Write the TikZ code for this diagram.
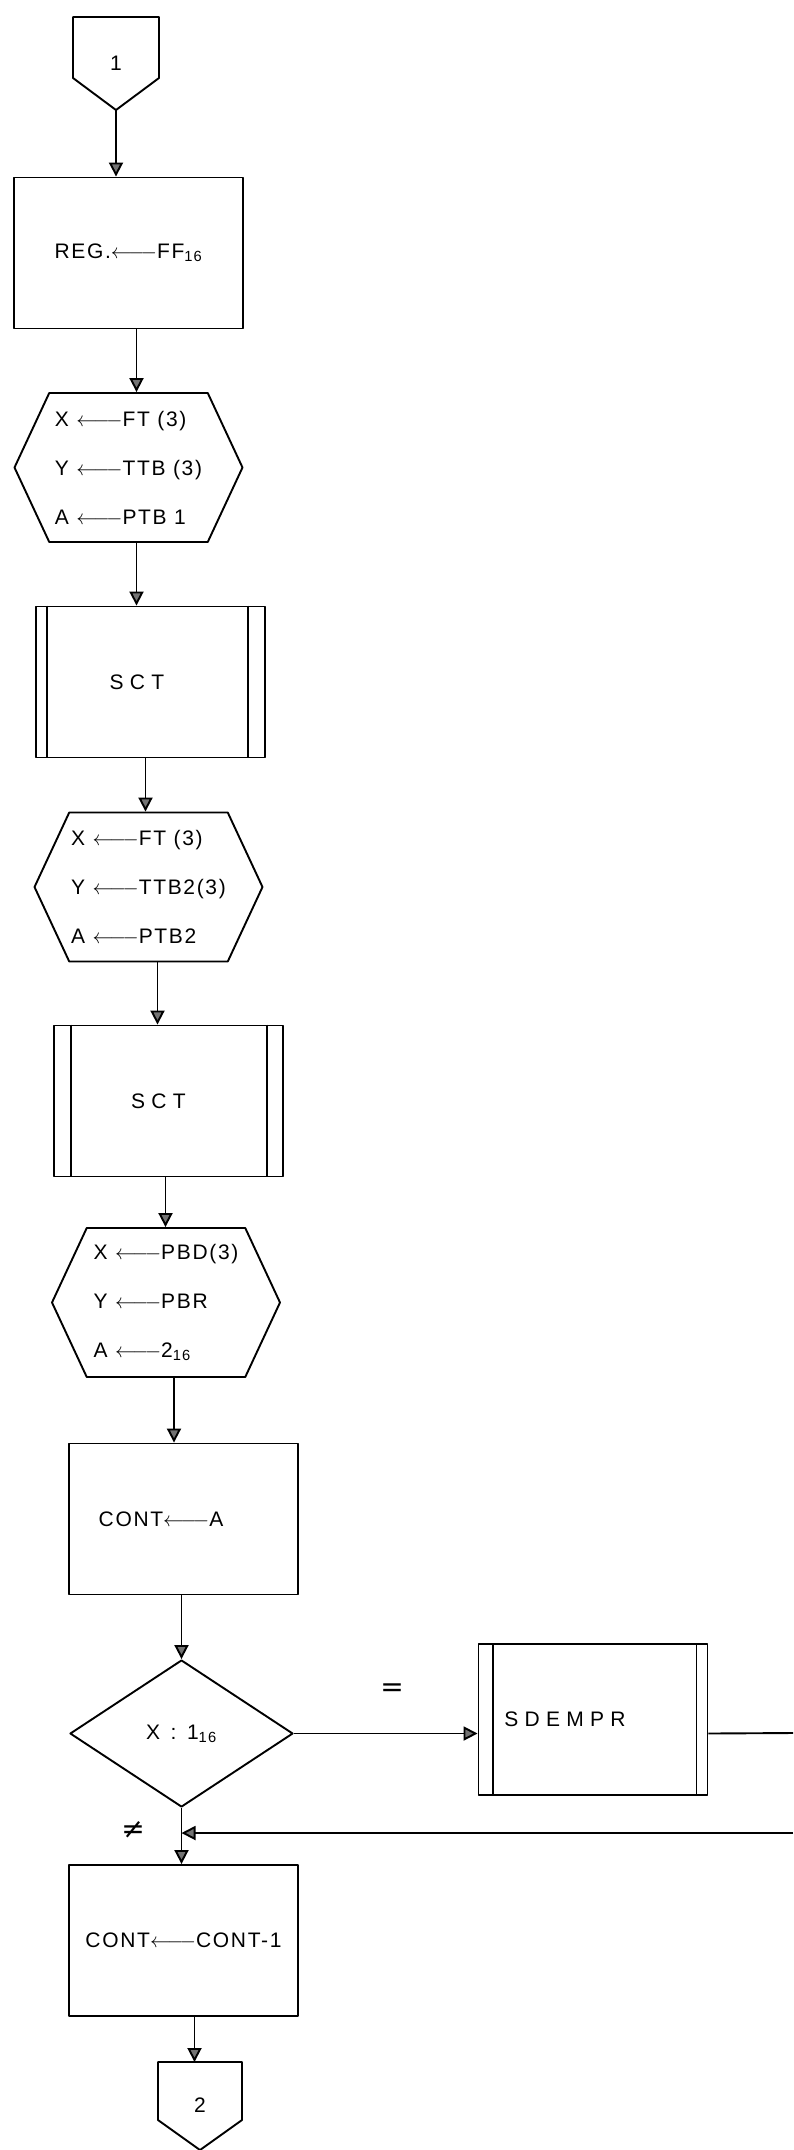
\documentclass[tikz,border=0pt]{standalone}
\usepackage{fontspec}
\setmainfont{Liberation Sans}[LetterSpace=8]
\newfontfamily\relfont{DejaVu Sans}
\usetikzlibrary{arrows.meta,shapes.geometric,shapes.symbols}
\newcommand\asgn{$\mathrel{\leftarrow\joinrel\relbar\joinrel\relbar}$}

\begin{document}
\begin{tikzpicture}[x=1pt,y=-1pt,line width=1.9pt,line join=round,
  font=\fontsize{21}{49}\selectfont,
  flow/.style={-{Triangle[length=14pt,width=14pt,fill=black!55]}},
  proc/.style={draw,rectangle,minimum width=229pt,minimum height=151pt,inner sep=0pt},
  sub/.style={proc,font=\fontsize{21}{49}\selectfont\addfontfeature{LetterSpace=30}},
  hexa/.style={draw,signal,signal to=east and west,signal pointer angle=130,
    minimum width=228pt,minimum height=149pt,inner sep=0pt,align=left},
  decision/.style={draw,diamond,aspect=1.5,minimum width=223pt,minimum height=147pt,inner sep=0pt},
  rel/.style={font=\relfont\fontsize{28}{28}\selectfont}]
\useasboundingbox (0,0) rectangle (793,2150);

% off-page connectors, drawn round their numbers
\node (c1) at (116,63) {1};
\draw (c1.center) +(-43,-46) -- +(43,-46) -- +(43,15) -- +(0,47) -- +(-43,15) -- cycle;
\coordinate (c1tip) at (116,110);
\node (c2) at (200,2105) {2};
\draw (c2.center) +(-42,-43) -- +(42,-43) -- +(42,15) -- +(0,45) -- +(-42,15) -- cycle;
\coordinate (c2top) at (200,2062);

% main column
\node[proc] (reg) at (128.5,253) {REG.\asgn FF\textsubscript{16}};
\node[hexa] (h1) at (128.5,467.5) {X \asgn FT (3)\\Y \asgn TTB (3)\\A \asgn PTB 1};
\node[sub] (sct1) at (150.5,682) {SCT\hspace*{27pt}};
\node[hexa] (h2) at (148.5,887) {X \asgn FT (3)\\Y \asgn TTB2(3)\\A \asgn PTB2};
\node[sub] (sct2) at (168.5,1101) {SCT\hspace*{20pt}};
\node[hexa] (h3) at (166,1302.5) {X \asgn PBD(3)\\Y \asgn PBR\\A \asgn 2\textsubscript{16}};
\node[proc] (cont) at (183.5,1519) {CONT\asgn A\hspace*{45pt}};
\node[decision] (cmp) at (181.5,1733.5) {X\enspace:\enspace1\textsubscript{16}};
\node[sub] (sdempr) at (593,1719.5) {SDEMPR\hspace*{56pt}};
\node[proc] (dec) at (183.5,1940.5) {CONT\asgn CONT-1};
\coordinate (outR) at (793,1733);
\coordinate (backR) at (793,1833);
\node[rel] (eq) at (392,1690) {=};
\node[rel] (neq) at (133,1830) {≠};

% bars of the subroutine boxes
\foreach \n/\l/\r in {sct1/12/18,sct2/18/17,sdempr/15/12} {
  \draw ([xshift=\l pt]\n.north west) -- ([xshift=\l pt]\n.south west);
  \draw ([xshift=-\r pt]\n.north east) -- ([xshift=-\r pt]\n.south east);
}

% flow lines
\draw[flow] (c1tip) -- (c1tip |- reg.north);
\draw[flow] ([xshift=8pt]reg.south) -- ([xshift=8pt]reg.south |- h1.north);
\draw[flow] ([xshift=8pt]h1.south) -- ([xshift=8pt]h1.south |- sct1.north);
\draw[flow] ([xshift=-5pt]sct1.south) -- ([xshift=-5pt]sct1.south |- h2.north);
\draw[flow] ([xshift=9pt]h2.south) -- ([xshift=9pt]h2.south |- sct2.north);
\draw[flow] ([xshift=-3pt]sct2.south) -- ([xshift=-3pt]sct2.south |- h3.north);
\draw[flow] ([xshift=8pt]h3.south) -- ([xshift=8pt]h3.south |- cont.north);
\draw[flow] (cont.south -| cmp.north) -- (cmp.north);
\draw[flow] (cmp.east) -- (cmp.east -| sdempr.west);
\draw (cmp.east -| sdempr.east) -- (outR);
\draw[flow] (backR) -- (backR -| cmp.south);
\draw[flow] (cmp.south) -- (cmp.south |- dec.north);
\draw[flow] ([xshift=11pt]dec.south) -- ([xshift=11pt]dec.south |- c2top);
\end{tikzpicture}
\end{document}
